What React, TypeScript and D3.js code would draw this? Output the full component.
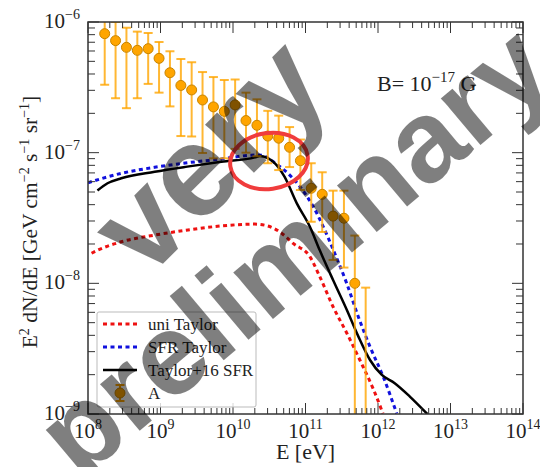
import React from 'react';
import * as d3 from 'd3';

// data points "A" (energy in eV, E^2 dN/dE in GeV cm^-2 s^-1 sr^-1)
const pointE = [1.70e8, 2.40e8, 3.39e8, 4.79e8, 6.76e8, 9.55e8, 1.35e9, 1.91e9, 2.69e9, 3.80e9, 5.37e9, 7.59e9, 1.07e10, 1.51e10, 2.14e10, 3.02e10, 4.27e10, 6.03e10, 8.51e10, 1.20e11, 1.70e11, 2.40e11, 3.39e11, 4.79e11, 6.76e11];
const pointF = [8.14e-7, 7.2e-7, 6.4e-7, 6.07e-7, 6.25e-7, 5.27e-7, 4.09e-7, 3.27e-7, 3.02e-7, 2.53e-7, 2.24e-7, 2.07e-7, 2.32e-7, 1.76e-7, 1.62e-7, 1.34e-7, 1.29e-7, 1.10e-7, 8.68e-8, 5.34e-8, 4.80e-8, 3.27e-8, 3.15e-8, 1.0e-8, 6e-10];
const pointHi = [1.3e-6, 1.0e-6, 9.04e-7, 8.44e-7, 8.24e-7, 7.03e-7, 5.97e-7, 5.21e-7, 4.92e-7, 4.14e-7, 3.79e-7, 3.6e-7, 3.63e-7, 2.88e-7, 2.56e-7, 2.09e-7, 1.92e-7, 1.57e-7, 1.26e-7, 8.3e-8, 7.08e-8, 5.12e-8, 5.12e-8, 2.32e-8, 9.27e-9];
const pointLo = [3.31e-7, 2.61e-7, 2.19e-7, 2.61e-7, 3.36e-7, 2.88e-7, 2.26e-7, 1.34e-7, 1.33e-7, 9.94e-8, 9.05e-8, 9.05e-8, 1.07e-7, 1.0e-7, 9.4e-8, 8.3e-8, 7.36e-8, 7.76e-8, 5.18e-8, 2.96e-8, 2.47e-8, 1.51e-8, 1.32e-8, 1e-10, 1e-10];

// model curves
const uniE = [1.12e8, 1.38e8, 2.88e8, 8.32e8, 2.40e9, 6.92e9, 2.0e10, 3.02e10, 4.68e10, 6.76e10, 1.15e11, 1.58e11, 2.40e11, 3.72e11, 5.62e11, 8.71e11, 1.17e12];
const uniF = [1.70e-8, 1.80e-8, 2.08e-8, 2.34e-8, 2.56e-8, 2.75e-8, 2.84e-8, 2.75e-8, 2.42e-8, 2.02e-8, 1.60e-8, 1.12e-8, 6.62e-9, 4.15e-9, 2.59e-9, 1.53e-9, 1.01e-9];

const sfrE = [1.0e8, 2.88e8, 8.32e8, 2.40e9, 6.92e9, 2.0e10, 2.51e10, 3.39e10, 4.45e10, 8.39e10, 1.28e11, 1.76e11, 2.42e11, 3.70e11, 5.35e11, 7.76e11, 1.18e12, 1.81e12];
const sfrF = [5.89e-8, 6.95e-8, 7.73e-8, 8.38e-8, 8.95e-8, 9.59e-8, 9.55e-8, 8.71e-8, 7.82e-8, 5.5e-8, 3.86e-8, 2.71e-8, 1.80e-8, 1.0e-8, 5.56e-9, 3.27e-9, 1.93e-9, 1.01e-9];

const t16E = [1.35e8, 1.86e8, 2.88e8, 8.32e8, 2.34e9, 6.92e9, 2.0e10, 2.34e10, 3.76e10, 5.13e10, 7.59e10, 1.15e11, 1.58e11, 2.40e11, 3.72e11, 5.37e11, 7.76e11, 1.12e12, 1.70e12, 2.75e12, 4.79e12];
const t16F = [5.13e-8, 5.83e-8, 6.37e-8, 7.14e-8, 7.82e-8, 8.53e-8, 9.2e-8, 9.44e-8, 8.32e-8, 6.55e-8, 4.09e-8, 2.71e-8, 1.78e-8, 1.06e-8, 6.25e-9, 3.91e-9, 2.59e-9, 2.0e-9, 1.72e-9, 1.36e-9, 1.0e-9];

const xTickExp = [8, 9, 10, 11, 12, 13, 14];
const yTickExp = [-9, -8, -7, -6];
const legendLabels = ['uni Taylor', 'SFR Taylor', 'Taylor+16 SFR', 'A'];

const W = 540, H = 467;
const L = 88, R = 523, T = 22, B = 414;

export default function App() {
  const x = d3.scaleLog().domain([1e8, 1e14]).range([L, R]);
  const y = d3.scaleLog().domain([1e-9, 1e-6]).range([B, T]);

  const line = d3.line<[number, number]>()
    .x(d => x(d[0]))
    .y(d => y(d[1]))
    .curve(d3.curveMonotoneX);

  const serif = '"Liberation Serif", "Times New Roman", serif';
  const axisCol = '#333';

  const xMinor: number[] = [];
  for (let e = 8; e < 14; e++) for (let m = 2; m <= 9; m++) xMinor.push(m * Math.pow(10, e));
  const yMinor: number[] = [];
  for (let e = -9; e < -6; e++) for (let m = 2; m <= 9; m++) yMinor.push(m * Math.pow(10, e));

  const curves = [
    { E: uniE, F: uniF, color: '#ee1111', dash: '4,3.5', w: 3 },
    { E: sfrE, F: sfrF, color: '#1111dd', dash: '4,3.5', w: 3 },
    { E: t16E, F: t16F, color: '#000', dash: null, w: 2.5 },
  ];

  return (
    <div style={{ position: 'fixed', left: 0, top: 0 }}>
      <svg width={W} height={H} style={{ display: 'block', background: '#fff' }}>
        <defs>
          <clipPath id="plot">
            <rect x={L} y={T} width={R - L} height={B - T} />
          </clipPath>
        </defs>

        <g clipPath="url(#plot)">
          {curves.map((c, i) => (
            <path key={i} d={line(c.E.map((e, j) => [e, c.F[j]]) as [number, number][]) || ''}
              fill="none" stroke={c.color} strokeWidth={c.w}
              strokeDasharray={c.dash || undefined} />
          ))}
          {pointE.map((e, i) => (
            <g key={i} stroke="#ffa500" strokeOpacity={0.8} strokeWidth={2}>
              <line x1={x(e)} x2={x(e)} y1={y(pointLo[i])} y2={y(pointHi[i])} />
              <line x1={x(e) - 4.5} x2={x(e) + 4.5} y1={y(pointLo[i])} y2={y(pointLo[i])} />
              <line x1={x(e) - 4.5} x2={x(e) + 4.5} y1={y(pointHi[i])} y2={y(pointHi[i])} />
            </g>
          ))}
          {pointE.map((e, i) => (
            <circle key={i} cx={x(e)} cy={y(pointF[i])} r={5} fill="#ffa500" stroke="#c88400" strokeWidth={1} />
          ))}
        </g>

        {/* frame and ticks */}
        <rect x={L} y={T} width={R - L} height={B - T} fill="none" stroke={axisCol} strokeWidth={1.5} />
        <g stroke={axisCol} strokeWidth={1}>
          {xTickExp.map(e => {
            const px = x(Math.pow(10, e));
            return <g key={e}>
              <line x1={px} x2={px} y1={B} y2={B - 11} />
              <line x1={px} x2={px} y1={T} y2={T + 11} />
            </g>;
          })}
          {xMinor.map((v, i) => {
            const px = x(v);
            return <g key={i}>
              <line x1={px} x2={px} y1={B} y2={B - 6} />
              <line x1={px} x2={px} y1={T} y2={T + 6} />
            </g>;
          })}
          {yTickExp.map(e => {
            const py = y(Math.pow(10, e));
            return <g key={e}>
              <line x1={L} x2={L + 11} y1={py} y2={py} />
              <line x1={R} x2={R - 11} y1={py} y2={py} />
            </g>;
          })}
          {yMinor.map((v, i) => {
            const py = y(v);
            return <g key={i}>
              <line x1={L} x2={L + 7} y1={py} y2={py} />
              <line x1={R} x2={R - 7} y1={py} y2={py} />
            </g>;
          })}
        </g>

        {/* tick labels */}
        <g fontFamily={serif} fill="#222" fontSize={21}>
          {xTickExp.map(e => (
            <text key={e} x={x(Math.pow(10, e))} y={B + 24} textAnchor="middle">
              10<tspan dy={-9} fontSize={14}>{e}</tspan>
            </text>
          ))}
          {yTickExp.map(e => (
            <text key={e} x={L - 8} y={y(Math.pow(10, e)) + 6} textAnchor="end">
              10<tspan dy={-9} fontSize={14}>{'\u2212' + Math.abs(e)}</tspan>
            </text>
          ))}
        </g>

        {/* axis titles */}
        <text x={(L + R) / 2} y={459} textAnchor="middle" fontFamily={serif} fontSize={22} fill="#222">E [eV]</text>
        <text transform={`translate(37,${(T + B) / 2 + 4}) rotate(-90)`} textAnchor="middle" fontFamily={serif} fontSize={21.5} fill="#222">
          E<tspan dy={-8} fontSize={14}>2</tspan>
          <tspan dy={8}> dN/dE [GeV cm</tspan><tspan dy={-8} fontSize={14}>{'\u22122'}</tspan>
          <tspan dy={8}> s</tspan><tspan dy={-8} fontSize={14}>{'\u22121'}</tspan>
          <tspan dy={8}> sr</tspan><tspan dy={-8} fontSize={14}>{'\u22121'}</tspan>
          <tspan dy={8}>]</tspan>
        </text>

        <text x={377} y={91} fontFamily={serif} fontSize={22} fill="#222">
          B= 10<tspan dy={-9} fontSize={15}>{'\u221217'}</tspan><tspan dy={9}> G</tspan>
        </text>

        {/* legend */}
        <g>
          <rect x={97} y={312} width={159} height={95} fill="#fff" fillOpacity={0.8} stroke="#bbb" strokeWidth={1} rx={2} />
          {legendLabels.map((lab, i) => {
            const ly = 324 + i * 23;
            return <g key={lab}>
              {i < 3 && <line x1={103} x2={137} y1={ly} y2={ly} stroke={curves[i].color}
                strokeWidth={curves[i].w} strokeDasharray={curves[i].dash || undefined} />}
              {i === 3 && <g>
                <line x1={120} x2={120} y1={ly - 8} y2={ly + 8} stroke="#ffa500" strokeWidth={2} />
                <line x1={115.5} x2={124.5} y1={ly - 8} y2={ly - 8} stroke="#ffa500" strokeWidth={2} />
                <line x1={115.5} x2={124.5} y1={ly + 8} y2={ly + 8} stroke="#ffa500" strokeWidth={2} />
                <circle cx={120} cy={ly} r={5} fill="#ffa500" stroke="#c88400" />
              </g>}
              <text x={148} y={ly + 6} fontFamily={serif} fontSize={17} fill="#222">{lab}</text>
            </g>;
          })}
        </g>

        {/* highlight ellipse */}
        <ellipse cx={269} cy={161} rx={39} ry={28} transform="rotate(-8,269,161)" fill="none" stroke="#f03c3c" strokeWidth={4} />

        {/* watermark */}
        <g fontFamily='"Liberation Sans", Arial, sans-serif' fontWeight="bold" fill="#000" fillOpacity={0.5}>
          <text transform="translate(208,155) rotate(-45)" textAnchor="middle" dominantBaseline="central" fontSize={130}>very</text>
          <text transform="translate(293,250) rotate(-40)" textAnchor="middle" dominantBaseline="central" fontSize={116}>preliminary</text>
        </g>
      </svg>
    </div>
  );
}
